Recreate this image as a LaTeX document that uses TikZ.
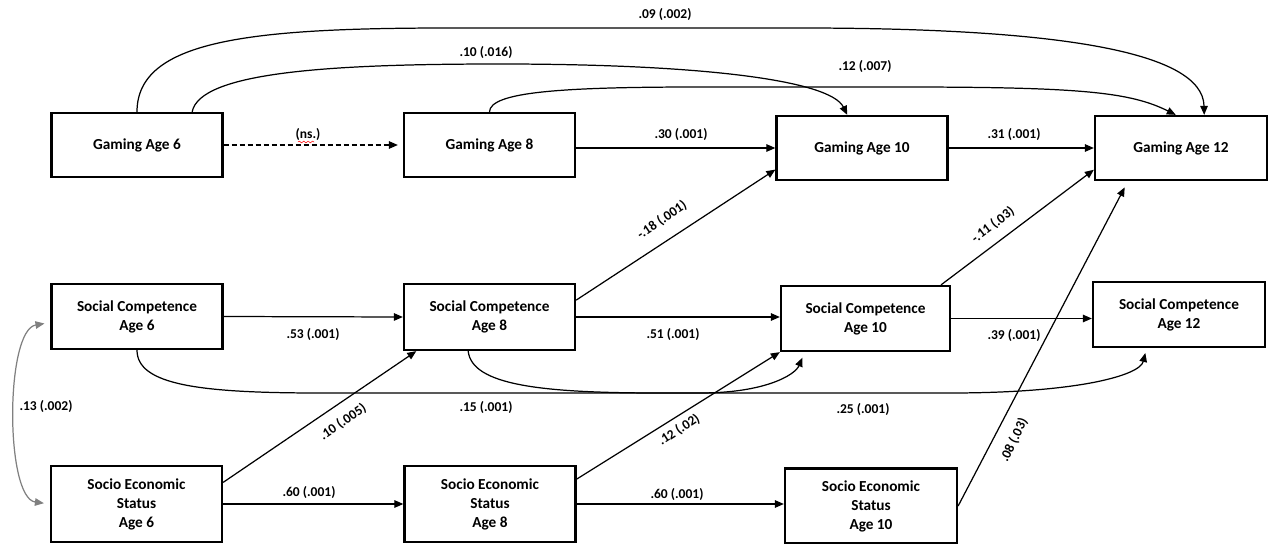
\documentclass[tikz,border=0pt]{standalone}
\usepackage{fontspec}
\setmainfont{Carlito}
\usetikzlibrary{arrows.meta,calc,positioning,decorations.pathmorphing}

\begin{document}
\begin{tikzpicture}[x=0.02cm,y=-0.02cm,
  box/.style={draw, line width=1.3pt, minimum width=3.42cm, align=center, inner sep=1pt,
    font=\fontsize{8.7}{10.8}\selectfont\bfseries},
  gbox/.style={box, minimum height=1.28cm},
  sbox/.style={box, minimum height=1.3cm},
  ebox/.style={box, minimum height=1.52cm},
  eff/.style={line width=0.7pt, -{Triangle[length=1.8mm,width=1.5mm]}},
  corr/.style={line width=0.7pt, gray, {Triangle[length=1.8mm,width=1.5mm]}-{Triangle[length=1.8mm,width=1.5mm]}},
  lbl/.style={inner sep=0pt, font=\fontsize{7.7}{9}\selectfont\bfseries}]

\useasboundingbox (0,0) rectangle (1269,544);

% gaming
\node[gbox] (g6) at (137,145) {Gaming Age 6};
\node[gbox] (g8) at (489.5,145) {Gaming Age 8};
\node[gbox] (g10) at (862,148) {Gaming Age 10};
\node[gbox, minimum width=3.44cm] (g12) at (1181,148) {Gaming Age 12};

% social competence
\node[sbox] (sc6) at (137,316.5) {Social Competence\\Age 6};
\node[sbox, minimum height=1.32cm] (sc8) at (489.5,317) {Social Competence\\Age 8};
\node[sbox, minimum width=3.38cm] (sc10) at (865.5,318.5) {Social Competence\\Age 10};
\node[sbox, minimum width=3.44cm] (sc12) at (1179,314.5) {Social Competence\\Age 12};

% socio economic status
\node[ebox] (ses6) at (136.5,504) {Socio Economic\\Status\\Age 6};
\node[ebox] (ses8) at (490,504) {Socio Economic\\Status\\Age 8};
\node[ebox, minimum width=3.44cm, minimum height=1.5cm] (ses10) at (871,506) {Socio Economic\\Status\\Age 10};

% straight paths
\draw[eff, dash pattern=on 1mm off 0.6mm, shorten >=0.1cm] (g6.east) -- (g8.west);
\draw[eff] (g8.east |- g10.west) -- (g10.west);
\draw[eff] (g10.east) -- (g12.west);
\draw[eff] (sc6.east) -- (sc8.west);
\draw[eff] (sc8.east) -- (sc10.west |- sc8.east);
\draw[eff] (sc10.east) -- (sc12.west |- sc10.east);
\draw[eff] (ses6.east) -- (ses8.west);
\draw[eff] (ses8.east) -- (ses10.west |- ses8.east);

% cross paths
\draw[eff] (ses6.14) -- (sc8.205);
\draw[eff] (ses8.16) -- (sc10.south west);
\draw[eff] (sc8.11) -- (g10.194);
\draw[eff] (sc10.24) -- (g12.194);
\draw[eff, shorten >=0.14cm] (ses10.east) -- (g12.212);

% lagged paths
\draw[eff] (g6.north) .. controls (137,40) and (250,28) .. (450,28) -- (800,28)
  .. controls (1050,28) and (1203,50) .. (g12.55);
\draw[eff] (g6.31) .. controls (200,72) and (330,64) .. (500,64)
  .. controls (700,64) and (830,80) .. (g10.114);
\draw[eff] (g8.north) .. controls (490,92) and (560,87) .. (700,87) -- (900,87)
  .. controls (1080,87) and (1130,92) .. (g12.99);
\draw[eff, shorten >=0.12cm] (sc6.south) .. controls (137,385) and (200,393) .. (320,393) -- (700,393)
  .. controls (765,393) and (795,375) .. (sc10.209);
\draw[eff, shorten >=0.1cm] (sc8.238) .. controls (472,385) and (540,393) .. (660,393) -- (950,393)
  .. controls (1080,393) and (1140,375) .. (sc12.226);
\draw[corr, shorten <=0.12cm, shorten >=0.12cm] (sc6.184) .. controls (5,330) and (5,498) .. (ses6.west);

% estimates
\node[lbl] (lns) at (308,135) {(ns.)};
\draw[red, line width=0.3pt, decorate, decoration={snake, amplitude=0.5pt, segment length=2.5pt}] (298,142) -- (314,142);
\node[lbl] (l30) at (681,135) {.30 (.001)};
\node[lbl] (l31) at (1014,135) {.31 (.001)};
\node[lbl] (l09) at (665,15) {.09 (.002)};
\node[lbl] (l10) at (486,53) {.10 (.016)};
\node[lbl] (l12) at (865,67) {.12 (.007)};
\node[lbl] (l53) at (313,335) {.53 (.001)};
\node[lbl] (l51) at (673,335) {.51 (.001)};
\node[lbl] (l39) at (1014,336) {.39 (.001)};
\node[lbl] (l15) at (486,408) {.15 (.001)};
\node[lbl] (l25) at (863,410) {.25 (.001)};
\node[lbl] (l13) at (46,407) {.13 (.002)};
\node[lbl] (l60a) at (309,493) {.60 (.001)};
\node[lbl] (l60b) at (677,495) {.60 (.001)};
\node[lbl, rotate=34] (l10b) at (343,422) {.10 (.005)};
\node[lbl, rotate=33] (l12b) at (679,430) {.12 (.02)};
\node[lbl, rotate=34] (l18) at (662,220) {-.18 (.001)};
\node[lbl, rotate=37] (l11) at (993,225) {-.11 (.03)};
\node[lbl, rotate=64] (l08) at (1014,440) {.08 (.03)};
\end{tikzpicture}
\end{document}
